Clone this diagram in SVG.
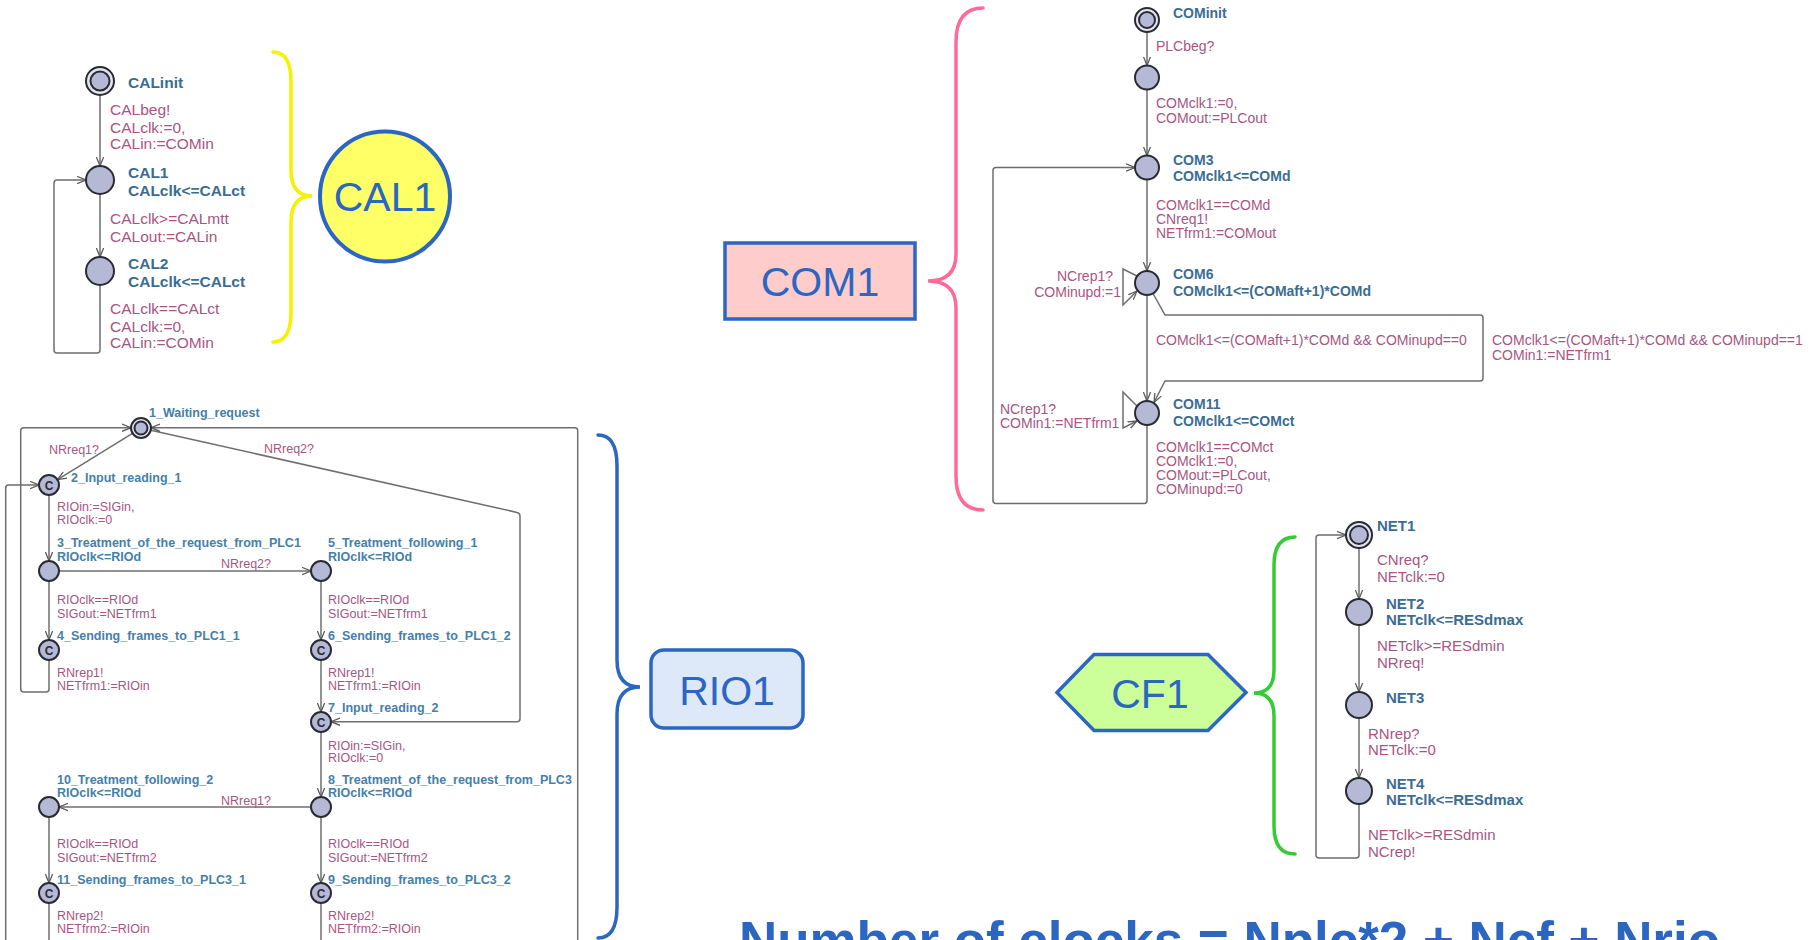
<svg xmlns="http://www.w3.org/2000/svg" width="1810" height="940" viewBox="0 0 1810 940">
<defs>
<style>
.bg{fill:#ffffff}
.e{fill:none;stroke:#6e6e6e;stroke-width:1.5;marker-end:url(#ah)}
.en{fill:none;stroke:#6e6e6e;stroke-width:1.5}
.loc{fill:#b5b9d5;stroke:#2a2a35;stroke-width:2}
.ring{fill:#e4e4ee;stroke:#2a2a35;stroke-width:2}
.t{font-family:"Liberation Sans",Arial,sans-serif}
.nm{font-weight:bold;fill:#3b6d92}
.lb{fill:#a9557f}
.cal{font-size:15.5px}
.rio{font-size:12.5px}
.rnm{font-weight:bold;fill:#4580aa}
.com{font-size:14px}
.net{font-size:15px}
.cc{font-family:"Liberation Sans",Arial,sans-serif;font-size:12px;font-weight:bold;fill:#2a2a35;text-anchor:middle}
.big{font-family:"Liberation Sans",Arial,sans-serif;font-size:41px;fill:#2b66c3;text-anchor:middle}
.brace{fill:none;stroke-width:3.5;stroke-linecap:round}
</style>
<marker id="ah" viewBox="0 0 10 10" refX="10" refY="5" markerWidth="9" markerHeight="9" markerUnits="userSpaceOnUse" orient="auto">
<path d="M0,1 L10,5 L0,9" fill="none" stroke="#5a5a5a" stroke-width="1.4"/>
</marker>
</defs>
<rect class="bg" x="0" y="0" width="1810" height="940"/>

<!-- connectors -->
<g id="connectors">
<!-- CAL -->
<path class="e" d="M100,95 L100,166"/>
<path class="e" d="M100,194 L100,257"/>
<path class="e" d="M100,285 L100,350 Q100,353 97,353 L57,353 Q54,353 54,350 L54,183 Q54,180 57,180 L86,180"/>
<!-- RIO -->
<path class="e" d="M132.5,433.3 L57.5,479.7"/>
<path class="e" d="M150.8,430.2 L517,512.4 Q520,513 520,516 L520,718.7 Q520,721.7 517,721.7 L331,721.7"/>
<path class="e" d="M49,660 L49,689 Q49,692 46,692 L23.7,692 Q20.7,692 20.7,689 L20.7,430.7 Q20.7,427.7 23.7,427.7 L131,427.7"/>
<path class="e" d="M577.7,940 L577.7,430.7 Q577.7,427.7 574.7,427.7 L151,427.7"/>
<path class="e" d="M5.7,940 L5.7,488 Q5.7,485 8.7,485 L39,485"/>
<path class="en" d="M49,903 L49,940"/>
<path class="en" d="M321,903 L321,940"/>
<path class="e" d="M49,495 L49,561"/>
<path class="e" d="M49,581 L49,640"/>
<path class="e" d="M59,571 L311,571"/>
<path class="e" d="M321,581 L321,640"/>
<path class="e" d="M321,660 L321,712"/>
<path class="e" d="M321,732 L321,797"/>
<path class="e" d="M311,807 L59,807"/>
<path class="e" d="M321,817 L321,883"/>
<path class="e" d="M49,817 L49,883"/>
<!-- COM -->
<path class="e" d="M1147,32 L1147,65.5"/>
<path class="e" d="M1147,89.5 L1147,155.5"/>
<path class="e" d="M1147,179.5 L1147,271"/>
<path class="e" d="M1147,295 L1147,401"/>
<path class="e" d="M1153,293.5 L1165,315 L1480,315 Q1483,315 1483,318 L1483,378 Q1483,381 1480,381 L1165,381 L1154,402.5"/>
<path class="e" d="M1137,276 L1123,269 L1123,305 L1137,291"/>
<path class="e" d="M1137,406 L1123,392 L1123,428 L1137,421"/>
<path class="e" d="M1147,425 L1147,500.5 Q1147,503.5 1144,503.5 L996,503.5 Q993,503.5 993,500.5 L993,170.5 Q993,167.5 996,167.5 L1135,167.5"/>
<!-- NET -->
<path class="e" d="M1359,548 L1359,599"/>
<path class="e" d="M1359,625 L1359,692"/>
<path class="e" d="M1359,718 L1359,778"/>
<path class="e" d="M1359,804 L1359,855 Q1359,858 1356,858 L1319,858 Q1316,858 1316,855 L1316,538 Q1316,535 1319,535 L1346,535"/>
</g>

<!-- CAL automaton -->
<g id="CALinit">
<circle class="ring" cx="100" cy="81" r="14"/><circle class="loc" cx="100" cy="81" r="9.5"/>
<text class="t cal nm" x="128" y="88">CALinit</text>
</g>
<g id="CAL1_loc">
<circle class="loc" cx="100" cy="180" r="14"/>
<text class="t cal nm" x="128" y="178">CAL1</text>
<text class="t cal nm" x="128" y="196">CALclk&lt;=CALct</text>
</g>
<g id="CAL2_loc">
<circle class="loc" cx="100" cy="271" r="14"/>
<text class="t cal nm" x="128" y="268.5">CAL2</text>
<text class="t cal nm" x="128" y="287">CALclk&lt;=CALct</text>
</g>
<g id="CAL_labels" class="t cal lb">
<text x="110" y="115">CALbeg!</text>
<text x="110" y="132.5">CALclk:=0,</text>
<text x="110" y="148.5">CALin:=COMin</text>
<text x="110" y="224">CALclk&gt;=CALmtt</text>
<text x="110" y="241.5">CALout:=CALin</text>
<text x="110" y="314">CALclk==CALct</text>
<text x="110" y="332">CALclk:=0,</text>
<text x="110" y="348">CALin:=COMin</text>
</g>

<g id="brace_CAL"><path class="brace" stroke="#f5f200" d="M273,52 Q291,52 291,82 L291,170 Q291,196 312,196 Q291,196 291,222 L291,312 Q291,342 273,342"/></g>
<g id="CAL1">
<circle cx="385" cy="196.5" r="65" fill="#ffff66" stroke="#2b66c3" stroke-width="4"/>
<text class="big" x="385" y="211">CAL1</text>
</g>

<!-- RIO automaton -->
<g id="RIO_1">
<circle class="ring" cx="141" cy="428" r="10"/><circle class="loc" cx="141" cy="428" r="6.5"/>
<text class="t rio rnm" x="149" y="417">1_Waiting_request</text>
</g>
<g id="RIO_2">
<circle class="loc" cx="49" cy="485" r="10"/><text class="cc" x="49" y="489.5">C</text>
<text class="t rio rnm" x="71" y="482">2_Input_reading_1</text>
</g>
<g id="RIO_3">
<circle class="loc" cx="49" cy="571" r="10"/>
<text class="t rio rnm" x="57" y="547">3_Treatment_of_the_request_from_PLC1</text>
<text class="t rio rnm" x="57" y="561">RIOclk&lt;=RIOd</text>
</g>
<g id="RIO_4">
<circle class="loc" cx="49" cy="650" r="10"/><text class="cc" x="49" y="654.5">C</text>
<text class="t rio rnm" x="57" y="640">4_Sending_frames_to_PLC1_1</text>
</g>
<g id="RIO_5">
<circle class="loc" cx="321" cy="571" r="10"/>
<text class="t rio rnm" x="328" y="547">5_Treatment_following_1</text>
<text class="t rio rnm" x="328" y="561">RIOclk&lt;=RIOd</text>
</g>
<g id="RIO_6">
<circle class="loc" cx="321" cy="650" r="10"/><text class="cc" x="321" y="654.5">C</text>
<text class="t rio rnm" x="328" y="640">6_Sending_frames_to_PLC1_2</text>
</g>
<g id="RIO_7">
<circle class="loc" cx="321" cy="722" r="10"/><text class="cc" x="321" y="726.5">C</text>
<text class="t rio rnm" x="328" y="712">7_Input_reading_2</text>
</g>
<g id="RIO_8">
<circle class="loc" cx="321" cy="807" r="10"/>
<text class="t rio rnm" x="328" y="784">8_Treatment_of_the_request_from_PLC3</text>
<text class="t rio rnm" x="328" y="797">RIOclk&lt;=RIOd</text>
</g>
<g id="RIO_10">
<circle class="loc" cx="49" cy="807" r="10"/>
<text class="t rio rnm" x="57" y="784">10_Treatment_following_2</text>
<text class="t rio rnm" x="57" y="797">RIOclk&lt;=RIOd</text>
</g>
<g id="RIO_11">
<circle class="loc" cx="49" cy="893" r="10"/><text class="cc" x="49" y="897.5">C</text>
<text class="t rio rnm" x="57" y="884">11_Sending_frames_to_PLC3_1</text>
</g>
<g id="RIO_9">
<circle class="loc" cx="321" cy="893" r="10"/><text class="cc" x="321" y="897.5">C</text>
<text class="t rio rnm" x="328" y="884">9_Sending_frames_to_PLC3_2</text>
</g>
<g id="RIO_labels" class="t rio lb">
<text x="49" y="454">NRreq1?</text>
<text x="264" y="453">NRreq2?</text>
<text x="57" y="511">RIOin:=SIGin,</text>
<text x="57" y="524">RIOclk:=0</text>
<text x="221" y="568">NRreq2?</text>
<text x="57" y="604">RIOclk==RIOd</text>
<text x="57" y="618">SIGout:=NETfrm1</text>
<text x="328" y="604">RIOclk==RIOd</text>
<text x="328" y="618">SIGout:=NETfrm1</text>
<text x="57" y="677">RNrep1!</text>
<text x="57" y="690">NETfrm1:=RIOin</text>
<text x="328" y="677">RNrep1!</text>
<text x="328" y="690">NETfrm1:=RIOin</text>
<text x="328" y="750">RIOin:=SIGin,</text>
<text x="328" y="762">RIOclk:=0</text>
<text x="221" y="805">NRreq1?</text>
<text x="57" y="848">RIOclk==RIOd</text>
<text x="57" y="862">SIGout:=NETfrm2</text>
<text x="328" y="848">RIOclk==RIOd</text>
<text x="328" y="862">SIGout:=NETfrm2</text>
<text x="57" y="920">RNrep2!</text>
<text x="57" y="933">NETfrm2:=RIOin</text>
<text x="328" y="920">RNrep2!</text>
<text x="328" y="933">NETfrm2:=RIOin</text>
</g>

<g id="brace_RIO"><path class="brace" stroke="#2b66c3" d="M598,435 Q617,435 617,466 L617,660 Q617,687 640,687 Q617,687 617,714 L617,907 Q617,938 598,938"/></g>
<g id="RIO1">
<rect x="651" y="650" width="152" height="78" rx="13" fill="#dde8f8" stroke="#2b66c3" stroke-width="3.5"/>
<text class="big" x="727" y="705">RIO1</text>
</g>

<!-- COM automaton -->
<g id="COMinit">
<circle class="ring" cx="1147" cy="20" r="12"/><circle class="loc" cx="1147" cy="20" r="8"/>
<text class="t com nm" x="1173" y="18">COMinit</text>
</g>
<g id="COM2">
<circle class="loc" cx="1147" cy="77.5" r="12"/>
</g>
<g id="COM3">
<circle class="loc" cx="1147" cy="167.5" r="12"/>
<text class="t com nm" x="1173" y="165">COM3</text>
<text class="t com nm" x="1173" y="181">COMclk1&lt;=COMd</text>
</g>
<g id="COM6">
<circle class="loc" cx="1147" cy="283" r="12"/>
<text class="t com nm" x="1173" y="279">COM6</text>
<text class="t com nm" x="1173" y="296">COMclk1&lt;=(COMaft+1)*COMd</text>
</g>
<g id="COM11">
<circle class="loc" cx="1147" cy="413" r="12"/>
<text class="t com nm" x="1173" y="409">COM11</text>
<text class="t com nm" x="1173" y="426">COMclk1&lt;=COMct</text>
</g>
<g id="COM_labels" class="t com lb">
<text x="1156" y="51">PLCbeg?</text>
<text x="1156" y="108">COMclk1:=0,</text>
<text x="1156" y="122.5">COMout:=PLCout</text>
<text x="1156" y="210">COMclk1==COMd</text>
<text x="1156" y="224">CNreq1!</text>
<text x="1156" y="238">NETfrm1:=COMout</text>
<text x="1113" y="281" text-anchor="end">NCrep1?</text>
<text x="1121" y="297" text-anchor="end">COMinupd:=1</text>
<text x="1156" y="345">COMclk1&lt;=(COMaft+1)*COMd &amp;&amp; COMinupd==0</text>
<text x="1492" y="345">COMclk1&lt;=(COMaft+1)*COMd &amp;&amp; COMinupd==1</text>
<text x="1492" y="360">COMin1:=NETfrm1</text>
<text x="1000" y="414">NCrep1?</text>
<text x="1000" y="428">COMin1:=NETfrm1</text>
<text x="1156" y="452">COMclk1==COMct</text>
<text x="1156" y="466">COMclk1:=0,</text>
<text x="1156" y="480">COMout:=PLCout,</text>
<text x="1156" y="494">COMinupd:=0</text>
</g>

<g id="brace_COM"><path class="brace" stroke="#ff6a98" d="M983,8 Q956,8 956,42 L956,254 Q956,281 928,281 Q956,281 956,308 L956,476 Q956,510 983,510"/></g>
<g id="COM1">
<rect x="725" y="243" width="190" height="76" fill="#ffcccc" stroke="#2b66c3" stroke-width="3.5"/>
<text class="big" x="820" y="296">COM1</text>
</g>

<!-- NET automaton -->
<g id="NET1">
<circle class="ring" cx="1359" cy="535" r="13"/><circle class="loc" cx="1359" cy="535" r="9"/>
<text class="t net nm" x="1377" y="531">NET1</text>
</g>
<g id="NET2">
<circle class="loc" cx="1359" cy="612" r="13"/>
<text class="t net nm" x="1386" y="609">NET2</text>
<text class="t net nm" x="1386" y="625">NETclk&lt;=RESdmax</text>
</g>
<g id="NET3">
<circle class="loc" cx="1359" cy="705" r="13"/>
<text class="t net nm" x="1386" y="703">NET3</text>
</g>
<g id="NET4">
<circle class="loc" cx="1359" cy="791" r="13"/>
<text class="t net nm" x="1386" y="789">NET4</text>
<text class="t net nm" x="1386" y="805">NETclk&lt;=RESdmax</text>
</g>
<g id="NET_labels" class="t net lb">
<text x="1377" y="565">CNreq?</text>
<text x="1377" y="582">NETclk:=0</text>
<text x="1377" y="651">NETclk&gt;=RESdmin</text>
<text x="1377" y="668">NRreq!</text>
<text x="1368" y="739">RNrep?</text>
<text x="1368" y="755">NETclk:=0</text>
<text x="1368" y="840">NETclk&gt;=RESdmin</text>
<text x="1368" y="857">NCrep!</text>
</g>

<g id="brace_NET"><path class="brace" stroke="#33cc33" d="M1295,537 Q1274,537 1274,565 L1274,670 Q1274,693 1254,693 Q1274,693 1274,716 L1274,826 Q1274,854 1295,854"/></g>
<g id="CF1">
<polygon points="1057,692.5 1094,654.5 1208,654.5 1246,692.5 1208,730.5 1094,730.5" fill="#ccff99" stroke="#2b66c3" stroke-width="3.5"/>
<text class="big" x="1150" y="708">CF1</text>
</g>

<g id="formula">
<text x="739" y="959" font-family="'Liberation Sans',Arial,sans-serif" font-weight="bold" font-size="53" fill="#2b66c3" textLength="981" lengthAdjust="spacingAndGlyphs">Number of clocks = Nplc*2 + Ncf + Nrio</text>
</g>
</svg>
